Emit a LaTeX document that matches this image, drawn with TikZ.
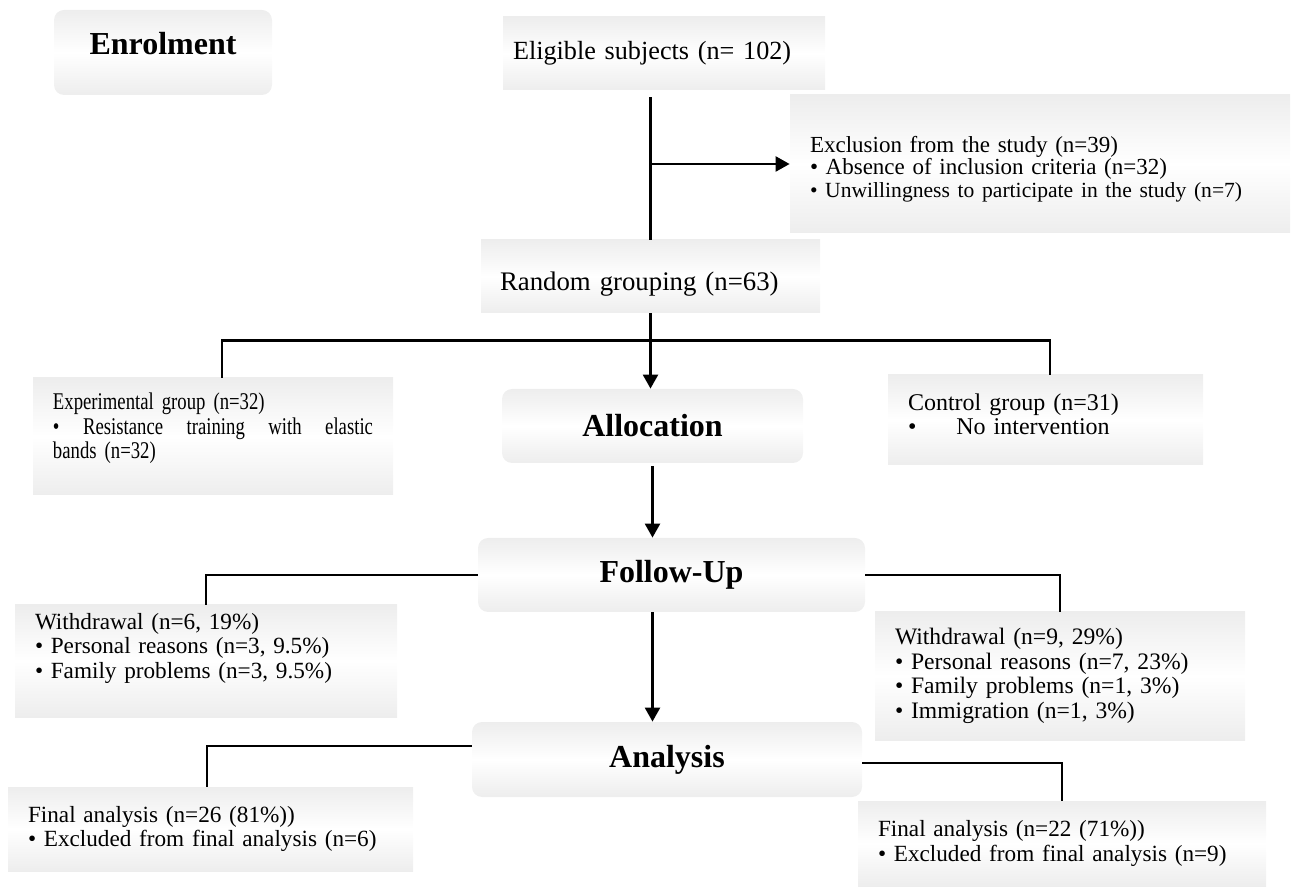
\documentclass[tikz,border=0pt]{standalone}
\usepackage{fontspec}
\setmainfont{Liberation Serif}
\newfontfamily\narrowserif[FakeStretch=0.78]{Liberation Serif}
\usetikzlibrary{arrows.meta}
\begin{document}
\begin{tikzpicture}[x=0.5pt,y=-0.5pt]
        % Styles
        \tikzstyle{shaded box}=[rectangle,inner sep=0pt,top color=gray!14,bottom color=gray!14,middle color=white]
        \tikzstyle{text box}=[shaded box,align=left,inner xsep=10pt,font=\fontsize{11.6}{12.25}\selectfont]
        \tikzstyle{stage box}=[shaded box,rounded corners=5pt,font=\fontsize{16}{18}\selectfont\bfseries]
        \tikzstyle{connector}=[line width=1.2pt]
        \tikzstyle{arrow}=[connector,-{Triangle[length=7pt,width=7.5pt]}]
        \useasboundingbox (0,0) rectangle (1302,887);
        %stages
        \node[stage box,minimum width=109pt,minimum height=42.5pt,text height=8pt,text depth=6.4pt] (enrol) at (163,52.5) {Enrolment};
        \node[stage box,minimum width=150.5pt,minimum height=37pt] (alloc) at (652.5,426) {Allocation};
        \node[stage box,minimum width=193.5pt,minimum height=37pt] (follow) at (671.5,575) {Follow-Up};
        \node[stage box,minimum width=195pt,minimum height=37.5pt] (anal) at (667,759.5) {Analysis};
        %enrolment
        \node[text box,inner xsep=5pt,text width=151pt,minimum height=36.5pt,font=\fontsize{13.1}{15}\selectfont] (elig) at (664,53.5) {Eligible subjects (n= 102)};
        \node[text box,text width=230pt,minimum height=69pt,text height=13.3pt,font=\fontsize{11.5}{11.3}\selectfont] (excl) at (1040,164)
            {Exclusion from the study (n=39)\\
             • Absence of inclusion criteria (n=32)\\
             {\fontsize{10.8}{11.3}\selectfont • Unwillingness to participate in the study (n=7)}};
        \node[text box,inner xsep=9.5pt,text width=150.5pt,minimum height=36.5pt,text height=16.6pt,font=\fontsize{13.4}{15}\selectfont] (rnd) at (650.5,276.5) {Random grouping (n=63)};
        %groups
        \node[text box,text width=160pt,minimum height=58.5pt,text depth=35pt,font=\narrowserif\fontsize{12}{12.25}\selectfont] (exper) at (213,436.5)
            {Experimental group (n=32)\\
             •\hfill Resistance\hfill training\hfill with\hfill elastic\\
             bands (n=32)};
        \node[text box,text width=137.5pt,minimum height=45pt,text depth=18.3pt,font=\fontsize{12}{12.25}\selectfont] (ctrl) at (1045.5,420)
            {Control group (n=31)\\
             •\hspace{20pt}No intervention};
        %follow-up
        \node[text box,text width=171pt,minimum height=56pt,text depth=40pt] (wleft) at (206,661)
            {Withdrawal (n=6, 19\%)\\
             • Personal reasons (n=3, 9.5\%)\\
             • Family problems (n=3, 9.5\%)};
        \node[text box,text width=165pt,minimum height=64pt,font=\fontsize{11.8}{12.25}\selectfont] (wright) at (1060,676)
            {Withdrawal (n=9, 29\%)\\
             • Personal reasons (n=7, 23\%)\\
             • Family problems (n=1, 3\%)\\
             • Immigration (n=1, 3\%)};
        %analysis
        \node[text box,text width=182.5pt,minimum height=42pt] (fleft) at (210.5,829)
            {Final analysis (n=26 (81\%))\\
             • Excluded from final analysis (n=6)};
        \node[text box,text width=184pt,minimum height=42.5pt] (fright) at (1062,843.5)
            {Final analysis (n=22 (71\%))\\
             • Excluded from final analysis (n=9)};
        %connectors
        \draw[connector,shorten <=3.5pt] (elig.south -| rnd.north) -- (rnd.north);
        \draw[arrow] (rnd.north |- excl.west) -- (excl.west);
        \draw[arrow] (rnd.south) -- (rnd.south |- alloc.north);
        \coordinate (split) at ([yshift=-13.5pt]rnd.south);
        \draw[connector] ([xshift=4.5pt]exper.north) |- (split) -| ([xshift=2.25pt]ctrl.north);
        \draw[arrow,shorten <=1.5pt] (alloc.south) -- (alloc.south |- follow.north);
        \draw[connector] (follow.west) -| (wleft.north);
        \draw[connector] (follow.east) -| (wright.north);
        \draw[arrow] (follow.south -| alloc.south) -- (alloc.south |- anal.north);
        \draw[connector] ([yshift=6.75pt]anal.west) -| ([xshift=-1.75pt]fleft.north);
        \draw[connector] ([yshift=-1.75pt]anal.east) -| (fright.north);
\end{tikzpicture}
\end{document}
